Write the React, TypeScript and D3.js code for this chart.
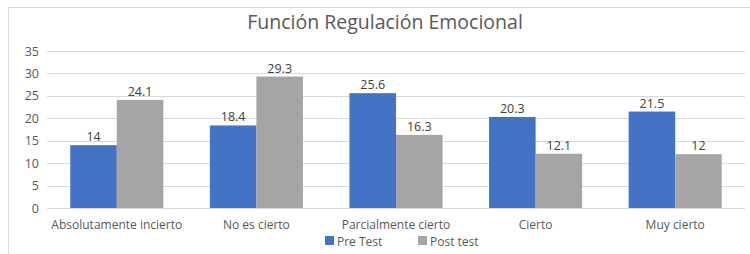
import React from "react";
import * as d3 from "d3";

const categories = ["Absolutamente incierto", "No es cierto", "Parcialmente cierto", "Cierto", "Muy cierto"];
const seriesNames = ["Pre Test", "Post test"];
const preTest = [14, 18.4, 25.6, 20.3, 21.5];
const postTest = [24.1, 29.3, 16.3, 12.1, 12];
const yTicks = [0, 5, 10, 15, 20, 25, 30, 35];
const colors = ["#4472C4", "#A5A5A5"];

const W = 750, H = 254;
const left = 47, right = 745, top = 51, bottom = 208;
const textColor = "#595959";
const font = "'Open Sans', 'Liberation Sans', sans-serif";

export default function App() {
  const x = d3.scaleBand<string>().domain(categories).range([left, right]).paddingInner(0).paddingOuter(0);
  const y = d3.scaleLinear().domain([0, 35]).range([bottom, top]);
  const bw = x.bandwidth() / 3;
  const series = [preTest, postTest];

  return (
    <svg width={W} height={H} style={{ position: "absolute", left: 0, top: 0, background: "#fff" }} fontFamily={font}>
      <rect x={8.5} y={7.5} width={W} height={H} fill="#fff" stroke="#d9d9d9" />
      <text x={385} y={29} textAnchor="middle" fontSize={19.5} fill={textColor}>Función Regulación Emocional</text>
      {yTicks.map((t) => (
        <g key={t}>
          <line x1={left} x2={right} y1={Math.round(y(t)) + 0.5} y2={Math.round(y(t)) + 0.5} stroke="#d9d9d9" />
          <text x={39} y={y(t) + 4.5} textAnchor="end" fontSize={12.5} fill={textColor}>{t}</text>
        </g>
      ))}
      {series.map((vals, si) =>
        vals.map((v, i) => {
          const cx = (x(categories[i]) as number) + bw / 2 + si * bw;
          return (
            <g key={si + "-" + i}>
              <rect x={cx} y={y(v)} width={bw} height={bottom - y(v)} fill={colors[si]} />
              <text x={cx + bw / 2} y={y(v) - 4} textAnchor="middle" fontSize={12.5} fill="#404040">{v}</text>
            </g>
          );
        })
      )}
      {categories.map((c) => (
        <text key={c} x={(x(c) as number) + x.bandwidth() / 2} y={229} textAnchor="middle" fontSize={12} fill={textColor}>{c}</text>
      ))}
      {seriesNames.map((s, i) => (
        <g key={s}>
          <rect x={325 + i * 93} y={236} width={9} height={9} fill={colors[i]} />
          <text x={337 + i * 93} y={246} fontSize={12} fill={textColor}>{s}</text>
        </g>
      ))}
    </svg>
  );
}
